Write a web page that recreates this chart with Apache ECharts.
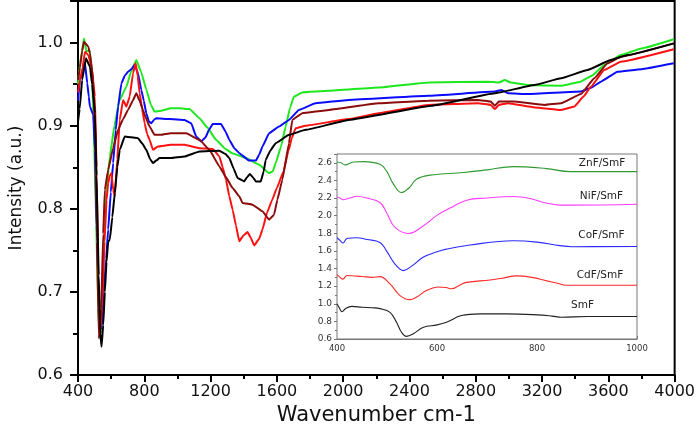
<!DOCTYPE html>
<html>
<head>
<meta charset="utf-8">
<script src="https://cdn.jsdelivr.net/npm/echarts@6/dist/echarts.min.js"></script>
<style>
	html,body{margin:0;padding:0;background:#fff;}
	#chart{width:698px;height:431px;}
</style>
</head>
<body>
<div id="chart"></div>
<script>
// main spectra [wavenumber, intensity]
var mainGreen = [[400,0.95],[412,0.975],[425,0.99],[436,1.005],[450,0.99],[472,0.99],[485,0.96],[495,0.9],[510,0.78],[522,0.68],[532,0.645],[542,0.66],[555,0.74],[570,0.82],[592,0.863],[620,0.9],[650,0.93],[692,0.947],[720,0.965],[752,0.979],[780,0.965],[813,0.943],[840,0.925],[862,0.917],[900,0.918],[960,0.921],[1013,0.921],[1073,0.92],[1133,0.909],[1180,0.898],[1233,0.883],[1290,0.872],[1331,0.867],[1413,0.861],[1493,0.853],[1553,0.843],[1575,0.845],[1593,0.855],[1625,0.875],[1653,0.899],[1680,0.922],[1703,0.935],[1753,0.94],[1914,0.942],[2214,0.946],[2514,0.952],[2874,0.953],[2940,0.952],[2975,0.955],[3010,0.952],[3115,0.949],[3315,0.948],[3433,0.953],[3500,0.96],[3575,0.973],[3675,0.985],[3800,0.993],[3995,1.004]];
var mainBlue = [[400,0.93],[412,0.955],[428,0.965],[442,0.975],[456,0.951],[465,0.935],[472,0.923],[492,0.913],[502,0.87],[515,0.76],[528,0.68],[542,0.656],[555,0.7],[570,0.74],[582,0.775],[598,0.82],[612,0.855],[628,0.895],[642,0.923],[662,0.951],[682,0.96],[702,0.965],[722,0.968],[742,0.973],[752,0.968],[762,0.963],[782,0.943],[797,0.93],[812,0.915],[828,0.905],[843,0.903],[858,0.907],[873,0.909],[950,0.908],[1043,0.907],[1083,0.903],[1113,0.887],[1143,0.881],[1170,0.886],[1190,0.895],[1213,0.902],[1263,0.902],[1290,0.893],[1313,0.883],[1343,0.873],[1373,0.867],[1433,0.858],[1473,0.858],[1493,0.865],[1513,0.875],[1553,0.891],[1613,0.899],[1673,0.907],[1733,0.919],[1833,0.927],[2034,0.931],[2514,0.936],[2915,0.941],[2955,0.943],[2995,0.939],[3115,0.938],[3435,0.941],[3500,0.946],[3555,0.953],[3655,0.965],[3800,0.968],[3995,0.975]];
var mainRed = [[400,0.94],[412,0.955],[428,0.97],[442,0.989],[462,0.985],[482,0.971],[502,0.935],[512,0.85],[522,0.72],[532,0.648],[545,0.68],[560,0.76],[572,0.81],[582,0.831],[592,0.84],[602,0.843],[612,0.823],[622,0.815],[637,0.86],[652,0.907],[672,0.931],[692,0.923],[712,0.935],[732,0.963],[748,0.975],[760,0.96],[772,0.939],[787,0.92],[802,0.903],[817,0.89],[832,0.883],[852,0.871],[882,0.875],[960,0.877],[1043,0.877],[1133,0.873],[1213,0.872],[1253,0.863],[1273,0.85],[1293,0.835],[1313,0.815],[1333,0.799],[1353,0.78],[1373,0.761],[1398,0.768],[1423,0.772],[1443,0.765],[1463,0.756],[1493,0.764],[1513,0.775],[1540,0.795],[1570,0.81],[1600,0.825],[1640,0.845],[1670,0.87],[1690,0.885],[1713,0.897],[1773,0.9],[2034,0.908],[2214,0.915],[2514,0.925],[2814,0.927],[2890,0.925],[2915,0.92],[2940,0.925],[2995,0.927],[3155,0.922],[3315,0.919],[3395,0.923],[3450,0.935],[3495,0.947],[3575,0.967],[3675,0.977],[3995,0.992]];
var mainMaroon = [[400,0.955],[412,0.97],[425,0.99],[436,1.001],[462,0.995],[472,0.987],[492,0.955],[505,0.88],[515,0.76],[526,0.644],[540,0.68],[552,0.77],[562,0.823],[582,0.847],[612,0.873],[642,0.895],[672,0.908],[702,0.919],[730,0.93],[752,0.939],[772,0.93],[792,0.919],[812,0.908],[832,0.899],[862,0.889],[900,0.889],[960,0.891],[1053,0.891],[1133,0.883],[1193,0.871],[1253,0.851],[1293,0.838],[1333,0.825],[1373,0.815],[1393,0.807],[1453,0.805],[1513,0.797],[1553,0.787],[1583,0.793],[1603,0.811],[1633,0.835],[1673,0.879],[1693,0.907],[1753,0.915],[1914,0.919],[2214,0.927],[2514,0.93],[2814,0.931],[2890,0.929],[2915,0.924],[2940,0.929],[3035,0.929],[3215,0.925],[3315,0.927],[3435,0.938],[3515,0.957],[3595,0.975],[3675,0.983],[3995,0.999]];
var mainBlack = [[400,0.905],[410,0.92],[425,0.955],[448,0.981],[472,0.971],[485,0.95],[502,0.915],[512,0.84],[525,0.72],[535,0.65],[542,0.634],[552,0.66],[562,0.7],[572,0.736],[582,0.76],[592,0.763],[607,0.79],[622,0.819],[637,0.85],[652,0.871],[682,0.887],[722,0.886],[762,0.885],[790,0.878],[812,0.871],[835,0.86],[852,0.855],[872,0.858],[892,0.861],[960,0.861],[1043,0.863],[1133,0.869],[1253,0.87],[1290,0.866],[1313,0.861],[1340,0.848],[1363,0.837],[1403,0.833],[1420,0.838],[1437,0.842],[1455,0.838],[1473,0.833],[1503,0.833],[1520,0.845],[1533,0.859],[1560,0.87],[1593,0.879],[1673,0.889],[1773,0.895],[2034,0.907],[2534,0.924],[2915,0.939],[3155,0.949],[3315,0.957],[3475,0.967],[3615,0.979],[3715,0.985],[3995,0.999]];

// inset spectra (offset)
var insetZnF = [[400,2.61],[408,2.6],[416,2.576],[433,2.61],[453,2.614],[486,2.584],[499,2.508],[513,2.358],[529,2.263],[545,2.32],[559,2.414],[586,2.46],[653,2.49],[700,2.52],[753,2.557],[819,2.534],[866,2.5],[1000,2.5]];
var insetNiF = [[400,2.214],[406,2.2],[412,2.18],[426,2.2],[439,2.22],[460,2.2],[486,2.15],[499,2.036],[516,1.866],[543,1.798],[573,1.886],[599,2.0],[626,2.086],[659,2.176],[700,2.2],[753,2.217],[790,2.19],[813,2.15],[846,2.12],[870,2.12],[1000,2.13]];
var insetCoF = [[400,1.75],[406,1.72],[412,1.69],[420,1.74],[440,1.75],[460,1.73],[486,1.696],[499,1.6],[516,1.45],[533,1.376],[550,1.43],[573,1.53],[600,1.59],[619,1.62],[666,1.667],[752,1.715],[800,1.7],[846,1.66],[870,1.648],[1000,1.65]];
var insetCdF = [[400,1.33],[406,1.3],[412,1.28],[420,1.32],[435,1.315],[450,1.31],[470,1.3],[486,1.308],[506,1.225],[526,1.093],[546,1.047],[560,1.08],[579,1.15],[602,1.19],[618,1.185],[629,1.17],[645,1.21],[659,1.243],[706,1.27],[730,1.29],[759,1.316],[790,1.3],[820,1.26],[839,1.236],[859,1.21],[1000,1.21]];
var insetSmF = [[400,1.0],[405,0.95],[410,0.91],[418,0.95],[430,0.97],[450,0.96],[470,0.955],[486,0.945],[506,0.903],[519,0.79],[529,0.677],[539,0.63],[553,0.66],[573,0.734],[600,0.76],[619,0.79],[649,0.866],[686,0.885],[740,0.885],[800,0.874],[830,0.86],[849,0.847],[900,0.855],[1000,0.855]];

var insetNames = ['ZnF/SmF','NiF/SmF','CoF/SmF','CdF/SmF','SmF'];
// where each inset label sits, in inset data units
var insetLabelAt = [[930,2.6],[929,2.217],[929,1.772],[926,1.319],[891,0.979]];

var chart = echarts.init(document.getElementById('chart'));
var fnt = 'DejaVu Sans';

function mainLine(data, color){
	return {
		type:'line', xAxisIndex:0, yAxisIndex:0, data:data,
		showSymbol:false, smooth:0.1, smoothMonotone:'x',
		lineStyle:{color:color, width:2}
	};
}

function insetLine(data, color, idx){
	return {
		type:'line', xAxisIndex:1, yAxisIndex:1, data:data,
		showSymbol:false, smooth:0.4, z:5,
		lineStyle:{color:color, width:1.1},
		markPoint:{
			symbol:'circle', symbolSize:1, silent:true,
			itemStyle:{color:'rgba(0,0,0,0)'},
			label:{show:true, position:'inside', color:'#222', fontFamily:fnt, fontSize:10.5, formatter:insetNames[idx]},
			data:[{coord:insetLabelAt[idx]}]
		}
	};
}

// plain numbers, no thousands separator
function plain(v){ return String(v); }
function oneDec(v){ return v.toFixed(1); }

var option = {
	animation:false,
	backgroundColor:'#fff',
	grid:[
		{left:78, right:21, top:1, bottom:54, show:true, borderColor:'#000', borderWidth:2, z:0},
		{left:337, right:61, top:154, bottom:92, show:true, borderColor:'#777', borderWidth:1, backgroundColor:'#fff', z:3}
	],
	xAxis:[
		{
			type:'value', gridIndex:0, min:400, max:4000, interval:400,
			name:'Wavenumber cm-1', nameLocation:'middle', nameGap:27,
			nameTextStyle:{fontFamily:fnt, fontSize:21, color:'#111'},
			axisLine:{lineStyle:{color:'#000', width:2}},
			axisTick:{length:7, lineStyle:{width:2, color:'#000'}},
			minorTick:{show:true, splitNumber:2, length:4, lineStyle:{width:2, color:'#000'}},
			axisLabel:{fontFamily:fnt, fontSize:16, color:'#111', margin:9, formatter:plain},
			splitLine:{show:false}
		},
		{
			type:'value', gridIndex:1, min:400, max:1000, interval:200,
			axisLine:{lineStyle:{color:'#777', width:1}},
			axisTick:{inside:true, length:3, lineStyle:{color:'#777'}},
			minorTick:{show:true, splitNumber:2, length:2, lineStyle:{color:'#777'}},
			axisLabel:{fontFamily:fnt, fontSize:8.5, color:'#333', margin:5, formatter:plain},
			splitLine:{show:false}
		}
	],
	yAxis:[
		{
			type:'value', gridIndex:0, min:0.6, max:1.05, interval:0.1,
			name:'Intensity (a.u.)', nameLocation:'middle', nameGap:53,
			nameTextStyle:{fontFamily:fnt, fontSize:17, color:'#111'},
			axisLine:{lineStyle:{color:'#000', width:2}},
			axisTick:{length:8, lineStyle:{width:2, color:'#000'}},
			minorTick:{show:true, splitNumber:2, length:5, lineStyle:{width:2, color:'#000'}},
			axisLabel:{fontFamily:fnt, fontSize:16, color:'#111', margin:15, showMaxLabel:false, formatter:oneDec},
			splitLine:{show:false}
		},
		{
			type:'value', gridIndex:1, min:0.6, max:2.7, interval:0.2,
			axisLine:{lineStyle:{color:'#777', width:1}},
			axisTick:{length:3, lineStyle:{color:'#777'}},
			minorTick:{show:true, splitNumber:2, length:2, lineStyle:{color:'#777'}},
			axisLabel:{fontFamily:fnt, fontSize:9, color:'#333', margin:5, showMaxLabel:false, formatter:oneDec},
			splitLine:{show:false}
		}
	],
	series:[
		mainLine(mainGreen,'#1de81d'),
		mainLine(mainBlue,'#0a0aff'),
		mainLine(mainRed,'#ff1010'),
		mainLine(mainMaroon,'#8a0c0c'),
		mainLine(mainBlack,'#000000'),
		insetLine(insetZnF,'#2f9a2f',0),
		insetLine(insetNiF,'#ff3cff',1),
		insetLine(insetCoF,'#2a2aff',2),
		insetLine(insetCdF,'#ff2a2a',3),
		insetLine(insetSmF,'#222222',4)
	]
};

chart.setOption(option);
</script>
</body>
</html>
